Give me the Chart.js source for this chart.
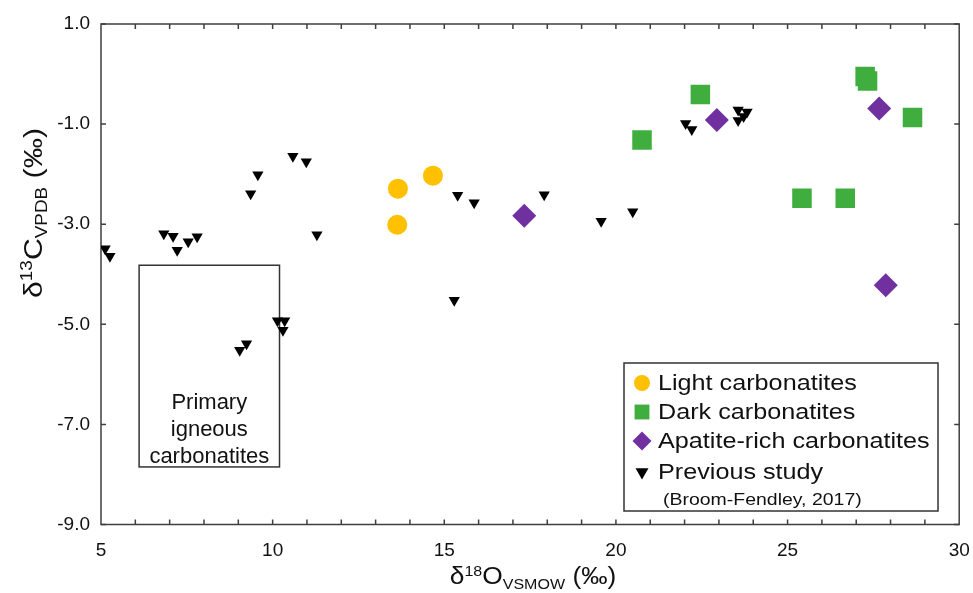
<!DOCTYPE html>
<html>
<head>
<meta charset="utf-8">
<script src="https://cdn.jsdelivr.net/npm/chart.js@4.4.1/dist/chart.umd.min.js"></script>
<style>
  html, body { margin: 0; padding: 0; background: #fff; }
  canvas { display: block; }
</style>
</head>
<body>
<canvas id="isotopeChart" width="973" height="593"></canvas>
<script>
// d18O (x) / d13C (y) values
const lightX = [13.65, 14.67, 13.63];
const lightY = [-2.29, -2.03, -3.01];

const darkX = [20.76, 22.46, 27.26, 27.33, 28.64, 25.42, 26.68];
const darkY = [-1.32, -0.41, -0.05, -0.14, -0.87, -2.48, -2.48];

const apatiteX = [17.33, 22.94, 27.67, 27.86];
const apatiteY = [-2.83, -0.92, -0.69, -4.22];

const prevX = [5.12, 5.26, 6.83, 7.10, 7.22, 7.54, 7.80, 9.36, 9.57, 10.59, 10.98, 11.29,
    10.14, 10.35, 10.30, 9.24, 9.04, 15.39, 15.87, 17.91, 19.57, 20.49, 15.29,
    22.03, 22.21, 23.56, 23.82, 23.56, 23.72];
const prevY = [-3.49, -3.64, -3.19, -3.24, -3.52, -3.35, -3.25, -2.39, -2.01, -1.64, -1.75, -3.21,
    -4.93, -4.93, -5.12, -5.39, -5.52, -2.42, -2.57, -2.41, -2.94, -2.75, -4.52,
    -0.99, -1.11, -0.72, -0.76, -0.93, -0.85];

const seriesNames = ['Light carbonatites', 'Dark carbonatites', 'Apatite-rich carbonatites', 'Previous study'];
const legendNote = '(Broom-Fendley, 2017)';

const xTicks = [5, 10, 15, 20, 25, 30];
const yTicks = [1, -1, -3, -5, -7, -9];

// "Primary igneous carbonatites" field (data units)
const primaryX = [6.11, 10.20];
const primaryY = [-3.82, -7.85];
const primaryLines = ['Primary', 'igneous', 'carbonatites'];

const FONT = '"Liberation Sans", Arial, sans-serif';
const STRETCH = 1.145;   // legend text in the figure is a bit wider than plain Arial
const FRAME = '#3f3f3f';

const toPoints = (xs, ys) => xs.map((x, i) => ({ x: x, y: ys[i] }));

// draw text, optionally stretched horizontally
const wideText = (ctx, text, x, y, size, align, stretch) => {
    const k = stretch || 1;
    ctx.save();
    ctx.font = size + 'px ' + FONT;
    ctx.textBaseline = 'middle';
    ctx.textAlign = 'left';
    const w = ctx.measureText(text).width * k;
    ctx.translate(align === 'center' ? x - w / 2 : x, y);
    ctx.scale(k, 1);
    ctx.fillText(text, 0, 0);
    ctx.restore();
};

// text with super/subscripts, centred on 0,0 of current transform
const richText = (ctx, parts) => {
    let total = 0;
    parts.forEach(p => { ctx.font = p.size + 'px ' + FONT; p.w = ctx.measureText(p.text).width; total += p.w; });
    let x = -total / 2;
    ctx.textBaseline = 'alphabetic';
    ctx.textAlign = 'left';
    parts.forEach(p => {
        ctx.font = p.size + 'px ' + FONT;
        ctx.fillText(p.text, x, 8 + (p.dy || 0));
        x += p.w;
    });
};

const framePlugin = {
    id: 'frame',
    beforeDatasetsDraw(chart) {
        const { ctx, chartArea: a, scales: { x, y } } = chart;
        ctx.save();
        ctx.strokeStyle = FRAME;
        ctx.lineWidth = 1.5;
        ctx.strokeRect(a.left, a.top, a.right - a.left, a.bottom - a.top);

        // inward ticks
        ctx.beginPath();
        for (let v = 6; v < 30; v++) {
            const px = x.getPixelForValue(v);
            ctx.moveTo(px, a.bottom); ctx.lineTo(px, a.bottom - 5);
            ctx.moveTo(px, a.top); ctx.lineTo(px, a.top + 5);
        }
        yTicks.forEach(v => {
            const py = y.getPixelForValue(v);
            ctx.moveTo(a.left, py); ctx.lineTo(a.left + 5, py);
            ctx.moveTo(a.right, py); ctx.lineTo(a.right - 5, py);
        });
        ctx.stroke();

        // primary igneous field
        const l = x.getPixelForValue(primaryX[0]), r = x.getPixelForValue(primaryX[1]);
        const t = y.getPixelForValue(primaryY[0]), b = y.getPixelForValue(primaryY[1]);
        ctx.strokeStyle = '#333';
        ctx.lineWidth = 1.5;
        ctx.strokeRect(l, t, r - l, b - t);
        ctx.fillStyle = '#111';
        primaryLines.forEach((line, i) => wideText(ctx, line, (l + r) / 2, b - 64 + i * 27, 22, 'center', 1));
        ctx.restore();
    },
    afterDatasetsDraw(chart) {
        const { ctx, chartArea: a, data } = chart;
        ctx.save();

        // axis titles
        ctx.fillStyle = '#111';
        ctx.save();
        ctx.translate(533, 576);
        ctx.scale(STRETCH, 1);
        richText(ctx, [
            { text: 'δ', size: 23 }, { text: '18', size: 14, dy: -8 }, { text: 'O', size: 23 },
            { text: 'VSMOW', size: 14, dy: 5 }, { text: ' (‰)', size: 23 }
        ]);
        ctx.restore();

        ctx.save();
        ctx.translate(33, 213);
        ctx.rotate(-Math.PI / 2);
        ctx.scale(1.26, 1.1);
        richText(ctx, [
            { text: 'δ', size: 24 }, { text: '13', size: 15, dy: -9 }, { text: 'C', size: 24 },
            { text: 'VPDB', size: 15, dy: 5 }, { text: ' (‰)', size: 24 }
        ]);
        ctx.restore();

        // legend
        const box = { left: 624, top: 363, right: 938, bottom: 511 };
        ctx.fillStyle = '#fff';
        ctx.fillRect(box.left, box.top, box.right - box.left, box.bottom - box.top);
        ctx.strokeStyle = '#333';
        ctx.lineWidth = 1.5;
        ctx.strokeRect(box.left, box.top, box.right - box.left, box.bottom - box.top);
        const rows = [383, 412, 441, 472];
        const sizes = [8, 10.5, 9.5, 7.5];
        data.datasets.forEach((ds, i) => {
            ctx.fillStyle = ds.backgroundColor;
            Chart.helpers.drawPoint(ctx, {
                pointStyle: ds.pointStyle, rotation: ds.rotation || 0,
                radius: sizes[i], borderWidth: 0
            }, 642, rows[i]);
            ctx.fillStyle = '#111';
            wideText(ctx, ds.label, 658, rows[i] + 1, 22, 'left', STRETCH);
        });
        wideText(ctx, legendNote, 663, 500, 17, 'left', STRETCH);
        ctx.restore();
    }
};

new Chart(document.getElementById('isotopeChart').getContext('2d'), {
    type: 'scatter',
    data: {
        datasets: [
            {
                label: seriesNames[0],
                data: toPoints(lightX, lightY),
                pointStyle: 'circle',
                pointRadius: 10,
                backgroundColor: '#ffc000',
                borderWidth: 0
            },
            {
                label: seriesNames[1],
                data: toPoints(darkX, darkY),
                pointStyle: 'rect',
                pointRadius: 13.8,
                backgroundColor: '#3fae3f',
                borderWidth: 0
            },
            {
                label: seriesNames[2],
                data: toPoints(apatiteX, apatiteY),
                pointStyle: 'rectRot',
                pointRadius: 12,
                backgroundColor: '#7030a0',
                borderWidth: 0
            },
            {
                label: seriesNames[3],
                data: toPoints(prevX, prevY),
                pointStyle: 'triangle',
                rotation: 180,
                pointRotation: 180,
                pointRadius: 6.5,
                backgroundColor: '#000',
                borderWidth: 0
            }
        ]
    },
    options: {
        responsive: false,
        animation: false,
        layout: { padding: { top: 24, right: 12, left: 0, bottom: 0 } },
        plugins: {
            legend: { display: false },
            tooltip: { enabled: false }
        },
        scales: {
            x: {
                type: 'linear',
                min: 5,
                max: 30,
                afterBuildTicks: (scale) => { scale.ticks = xTicks.map(v => ({ value: v })); },
                afterFit: (scale) => {
                    scale.height = 68.5;
                    scale.paddingLeft = 0;
                    scale.paddingRight = 0;
                },
                grid: { display: false, drawTicks: false },
                border: { display: false },
                ticks: {
                    padding: 15,
                    color: '#111',
                    font: { family: FONT, size: 19 },
                    maxRotation: 0
                }
            },
            y: {
                type: 'linear',
                min: -9,
                max: 1,
                afterBuildTicks: (scale) => { scale.ticks = yTicks.slice().reverse().map(v => ({ value: v })); },
                afterFit: (scale) => {
                    scale.width = 101;
                    scale.paddingTop = 0;
                    scale.paddingBottom = 0;
                },
                grid: { display: false, drawTicks: false },
                border: { display: false },
                ticks: {
                    padding: 11,
                    color: '#111',
                    font: { family: FONT, size: 19 },
                    callback: (v) => Number(v).toFixed(1)
                }
            }
        }
    },
    plugins: [framePlugin]
});
</script>
</body>
</html>
